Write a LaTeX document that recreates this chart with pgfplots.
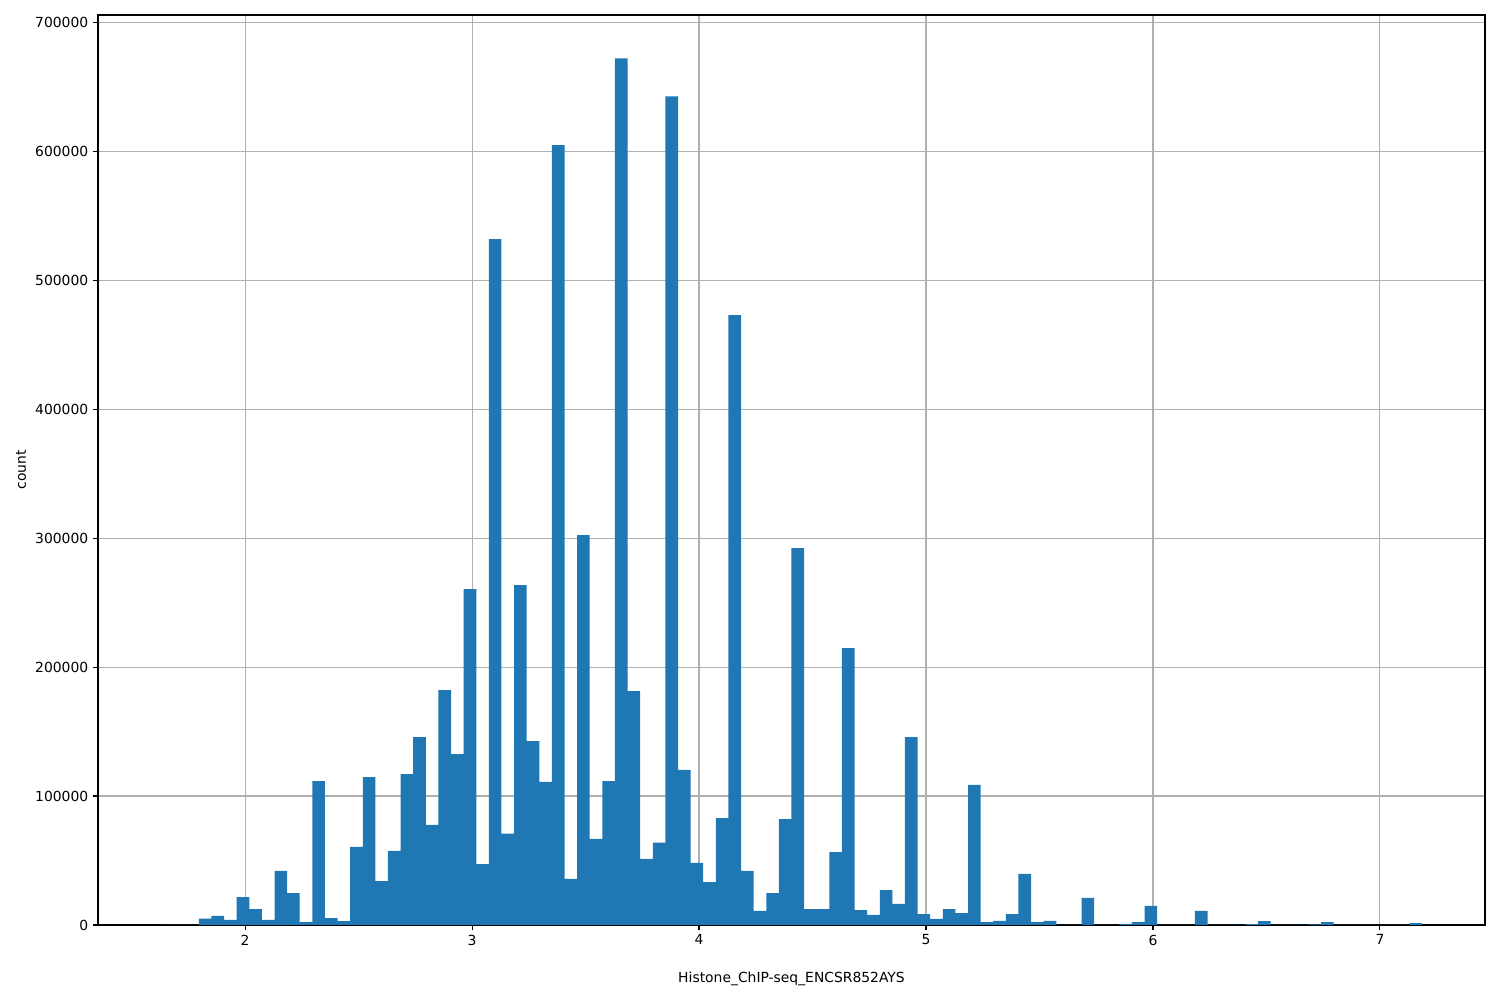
\documentclass[border=0pt]{standalone}
\usepackage{pgfplots}
\pgfplotsset{compat=1.18}
\usepackage{fontspec}
\setmainfont{DejaVu Sans}
\definecolor{mplblue}{HTML}{1F77B4}
\definecolor{gridgray}{HTML}{B0B0B0}

\begin{document}
\begin{tikzpicture}
\path[use as bounding box] (-70.56pt,-54pt) rectangle (1009.44pt,666pt);
\begin{axis}[
  at={(0,0)}, anchor=south west,
  scale only axis,
  width=998.64pt, height=655.2pt,
  xmin=1.3519, xmax=7.4630,
  ymin=0, ymax=705700,
  xtick={2,3,4,5,6,7},
  ytick={0,100000,200000,300000,400000,500000,600000,700000},
  scaled y ticks=false,
  yticklabel style={/pgf/number format/fixed, /pgf/number format/1000 sep={}},
  /pgf/number format/assume math mode=true,
  tick label style={font=\fontsize{10}{12}\selectfont},
  label style={font=\fontsize{10}{12}\selectfont},
  xtick pos=bottom, ytick pos=left,
  tick align=outside,
  major tick length=3.5pt,
  tick style={black, line width=0.8pt},
  axis line style={line width=0.8pt},
  grid=major,
  grid style={gridgray, line width=0.8pt},
  xlabel={Histone\_ChIP-seq\_ENCSR852AYS},
  ylabel={count},
  xlabel style={at={(axis description cs:0.5,0)}, anchor=center, yshift=-38.5pt},
  ylabel style={at={(axis description cs:-0.0555,0.5)}, anchor=center},
]
\addplot[ybar interval, fill=mplblue, draw=none] coordinates {
(1.6296,0) (1.6852,0) (1.7407,0) (1.7963,5000) (1.8519,7000)
(1.9074,4000) (1.9630,21700) (2.0185,12400) (2.0741,3900) (2.1296,41900)
(2.1852,24800) (2.2407,2300) (2.2963,111600) (2.3519,5400) (2.4074,3000)
(2.4630,60500) (2.5185,114700) (2.5741,34000) (2.6296,57400) (2.6852,117000)
(2.7407,145600) (2.7963,77700) (2.8519,182200) (2.9074,132600) (2.9630,260500)
(3.0185,47300) (3.0741,531800) (3.1296,70800) (3.1852,263600) (3.2407,142600)
(3.2963,110900) (3.3519,604700) (3.4074,35700) (3.4630,302300) (3.5185,66700)
(3.5741,111600) (3.6296,672100) (3.6852,181400) (3.7407,51200) (3.7963,63800)
(3.8519,642600) (3.9074,120200) (3.9630,48200) (4.0185,33300) (4.0741,82900)
(4.1296,472900) (4.1852,41900) (4.2407,10900) (4.2963,24800) (4.3519,82200)
(4.4074,292200) (4.4630,12400) (4.5185,12400) (4.5741,56600) (4.6296,214700)
(4.6852,11600) (4.7407,7800) (4.7963,27100) (4.8519,16300) (4.9074,145700)
(4.9630,8500) (5.0185,4700) (5.0741,12400) (5.1296,9300) (5.1852,108600)
(5.2407,2300) (5.2963,3100) (5.3519,8500) (5.4074,39600) (5.4630,2300)
(5.5185,3100) (5.5741,0) (5.6296,0) (5.6852,21000) (5.7407,0)
(5.7963,0) (5.8519,800) (5.9074,2300) (5.9630,14800) (6.0185,0)
(6.0741,0) (6.1296,0) (6.1852,10900) (6.2407,0) (6.2963,0)
(6.3519,0) (6.4074,700) (6.4630,3000) (6.5185,0) (6.5741,0)
(6.6296,0) (6.6852,500) (6.7407,2300) (6.7963,0) (6.8519,0)
(6.9074,0) (6.9630,0) (7.0185,0) (7.0741,0) (7.1296,1500)
(7.1852,0)
};
\end{axis}
\end{tikzpicture}
\end{document}
